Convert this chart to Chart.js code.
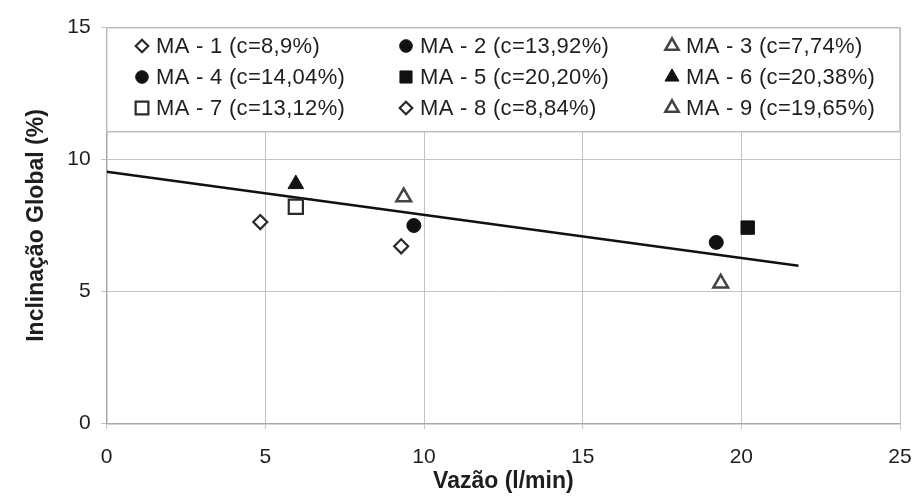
<!DOCTYPE html>
<html>
<head>
<meta charset="utf-8">
<title>Inclinação Global x Vazão</title>
<script src="https://cdn.jsdelivr.net/npm/chart.js"></script>
<style>
  html, body { margin: 0; padding: 0; background: #ffffff; }
  #wrap { width: 917px; height: 499px; }
</style>
</head>
<body>
<div id="wrap"><canvas id="myChart" width="917" height="499"></canvas></div>
<script>
// dados
var series = ['MA - 1 (c=8,9%)', 'MA - 2 (c=13,92%)', 'MA - 3 (c=7,74%)',
              'MA - 4 (c=14,04%)', 'MA - 5 (c=20,20%)', 'MA - 6 (c=20,38%)',
              'MA - 7 (c=13,12%)', 'MA - 8 (c=8,84%)', 'MA - 9 (c=19,65%)'];
var vazao = [4.84, 9.68, 19.35, 19.21, 20.2, 5.96, 5.96, 9.28, 9.36];
var inclinacao = [7.63, 7.50, 5.31, 6.86, 7.42, 9.07, 8.21, 6.71, 8.58];

// linha de tendencia
var trendX = [0, 21.8];
var trendY = [9.54, 5.97];

var xTicks = [0, 5, 10, 15, 20, 25];
var yTicks = [0, 5, 10, 15];

// estilo dos marcadores (um por serie)
var markers = [
  {style: 'rectRot', r: 7, fill: '#ffffff', line: '#2a2a2a', w: 2.2},
  {style: 'circle', r: 7, fill: '#111111', line: '#111111', w: 1},
  {style: 'triangle', r: 8.5, fill: '#ffffff', line: '#444444', w: 2.5},
  {style: 'circle', r: 7, fill: '#111111', line: '#111111', w: 1},
  {style: 'rect', r: 9.5, fill: '#111111', line: '#111111', w: 1},
  {style: 'triangle', r: 9, fill: '#111111', line: '#111111', w: 1},
  {style: 'rect', r: 10, fill: '#ffffff', line: '#2a2a2a', w: 2.2},
  {style: 'rectRot', r: 7, fill: '#ffffff', line: '#2a2a2a', w: 2.2},
  {style: 'triangle', r: 8.5, fill: '#ffffff', line: '#444444', w: 2.5}
];

var datasets = [];
for (var i in series) {
  var m = markers[i];
  datasets.push({
    label: series[i],
    data: [{x: vazao[i], y: inclinacao[i]}],
    pointStyle: m.style,
    pointRadius: m.r,
    pointHoverRadius: m.r,
    backgroundColor: m.fill,
    borderColor: m.line,
    pointBorderWidth: m.w,
    showLine: false
  });
}
var trend = [];
for (var k in trendX) trend.push({x: trendX[k], y: trendY[k]});
datasets.push({
  label: 'tendencia',
  data: trend,
  showLine: true,
  borderColor: '#111111',
  borderWidth: 2.5,
  pointRadius: 0,
  fill: false
});

var gridColor = '#c4c4c4';
var textColor = '#1e1e1e';

// legenda desenhada dentro da area do grafico (caixa branca no topo)
var innerLegend = {
  id: 'innerLegend',
  afterDatasetsDraw: function(chart) {
    var ctx = chart.ctx;
    var a = chart.chartArea;
    var top = a.top, bottom = 131.7;
    ctx.save();
    ctx.fillStyle = '#ffffff';
    ctx.fillRect(a.left, top, a.right - a.left, bottom - top);
    ctx.strokeStyle = '#bdbdbd';
    ctx.lineWidth = 1.5;
    ctx.strokeRect(a.left, top, a.right - a.left, bottom - top);

    var colX = [142, 406, 672];
    var rowY = [46, 77, 108];
    ctx.font = '22px "Liberation Sans", Arial, sans-serif';
    ctx.textBaseline = 'middle';
    ctx.textAlign = 'left';
    for (var i = 0; i < series.length; i++) {
      var m = markers[i];
      var x = colX[i % 3], y = rowY[Math.floor(i / 3)];
      ctx.fillStyle = m.fill;
      ctx.strokeStyle = m.line;
      ctx.lineWidth = m.w;
      ctx.letterSpacing = '0px';
      Chart.helpers.drawPoint(ctx, {pointStyle: m.style, radius: m.r * 0.9, rotation: 0, borderWidth: m.w}, x, y);
      ctx.fillStyle = textColor;
      ctx.letterSpacing = '0.3px';
      ctx.fillText(series[i], x + 14, y + 1);
    }
    ctx.restore();
  }
};

var ctx = document.getElementById('myChart');
var chart = new Chart(ctx, {
  type: 'scatter',
  data: {datasets: datasets},
  options: {
    responsive: false,
    animation: false,
    layout: {padding: {top: 27.7, right: 17, left: 0, bottom: 0}},
    plugins: {
      legend: {display: false},
      tooltip: {enabled: false}
    },
    scales: {
      x: {
        type: 'linear',
        min: 0, max: 25,
        afterBuildTicks: function(s) { s.ticks = xTicks.map(function(v){ return {value: v}; }); },
        afterFit: function(s) { s.height = 75.7; s.paddingLeft = 0; s.paddingRight = 0; },
        grid: {color: gridColor, lineWidth: 1, tickLength: 6},
        border: {color: '#a8a8a8', width: 1.5},
        ticks: {color: textColor, padding: 15, maxRotation: 0,
                font: {family: '"Liberation Sans", Arial, sans-serif', size: 21}},
        title: {display: true, text: 'Vazão (l/min)', color: textColor,
                padding: {top: 0, bottom: 4},
                font: {family: '"Liberation Sans", Arial, sans-serif', size: 23, weight: 'bold'}}
      },
      y: {
        type: 'linear',
        min: 0, max: 15,
        afterBuildTicks: function(s) { s.ticks = yTicks.map(function(v){ return {value: v}; }); },
        afterFit: function(s) { s.width = 106.7; s.paddingTop = 0; s.paddingBottom = 0; },
        grid: {color: gridColor, lineWidth: 1, tickLength: 6},
        border: {color: '#a8a8a8', width: 1.5},
        ticks: {color: textColor, padding: 10,
                font: {family: '"Liberation Sans", Arial, sans-serif', size: 21}},
        title: {display: true, text: 'Inclinação Global (%)', color: textColor,
                padding: {top: 23, bottom: 0},
                font: {family: '"Liberation Sans", Arial, sans-serif', size: 23, weight: 'bold'}}
      }
    }
  },
  plugins: [innerLegend]
});
</script>
</body>
</html>
